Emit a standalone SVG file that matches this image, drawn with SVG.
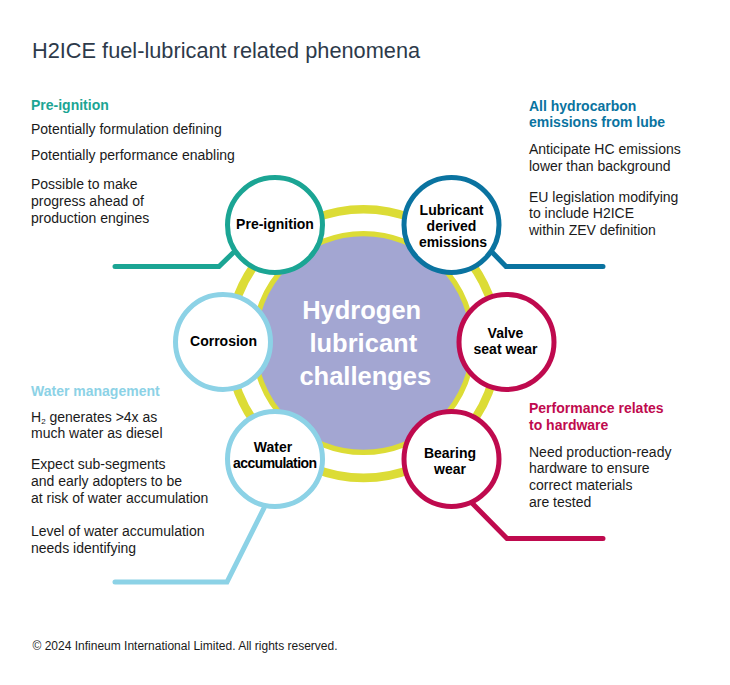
<svg xmlns="http://www.w3.org/2000/svg" width="730" height="685" viewBox="0 0 730 685">
<style>
text{font-family:"Liberation Sans",Arial,sans-serif;font-size:14px;fill:#1a1a1a}
.h{font-weight:bold}
.n{font-weight:bold;text-anchor:middle;fill:#000}
.c{font-size:25.500px;font-weight:bold;fill:#fff;text-anchor:middle}
.node{fill:#fff;stroke-width:5}
.l{fill:none;stroke-width:5;stroke-linecap:round;stroke-linejoin:miter}
</style>
<rect width="730" height="685" fill="#fff"/>
<text x="32" y="58" style="font-size:21.750px;fill:#2d3a4a">H2ICE fuel-lubricant related phenomena</text>
<g id="hub">
<circle cx="363.500" cy="343.600" r="134.300" fill="none" stroke="#dcdc36" stroke-width="8.600"/>
<circle cx="363.500" cy="343" r="109.400" fill="#a3a6d2" stroke="#dcdc36" stroke-width="5.300"/>
<text class="c" x="361.700" y="318.500">Hydrogen</text>
<text class="c" x="363.300" y="351.500">lubricant</text>
<text class="c" x="365.300" y="384.500">challenges</text>
</g>
<g id="connectors">
<path class="l" stroke="#1ba594" d="M115 266.500H219L236 250"/>
<path class="l" stroke="#0a73a0" d="M603 266.500H506L490 250"/>
<path class="l" stroke="#8cd2e6" d="M115 582H227L265 506"/>
<path class="l" stroke="#bf0a4e" d="M603 538.500H507L472 503"/>
</g>
<g id="pre-ignition"><circle class="node" cx="275" cy="225" r="47.500" stroke="#1ba594"/><text class="n" x="275" y="228.500">Pre-ignition</text></g>
<g id="lubricant"><circle class="node" cx="451.500" cy="225" r="47.500" stroke="#0a73a0"/><text class="n" x="451.500" y="214.500">Lubricant</text><text class="n" x="451.500" y="230.500">derived</text><text class="n" x="453" y="246.500" textLength="68">emissions</text></g>
<g id="corrosion"><circle class="node" cx="223" cy="342" r="47.500" stroke="#8cd2e6"/><text class="n" x="223.500" y="346">Corrosion</text></g>
<g id="valve"><circle class="node" cx="506.500" cy="342" r="47.500" stroke="#bf0a4e"/><text class="n" x="505.500" y="338">Valve</text><text class="n" x="505.500" y="354" textLength="64">seat wear</text></g>
<g id="water"><circle class="node" cx="275" cy="459" r="47.500" stroke="#8cd2e6"/><text class="n" x="273" y="452">Water</text><text class="n" x="275" y="468" textLength="84">accumulation</text></g>
<g id="bearing"><circle class="node" cx="451.500" cy="459" r="47.500" stroke="#bf0a4e"/><text class="n" x="450" y="458">Bearing</text><text class="n" x="450" y="474">wear</text></g>
<g id="text-pre-ignition">
<text class="h" x="31" y="110" style="fill:#1ba594">Pre-ignition</text>
<text x="31" y="134">Potentially formulation defining</text>
<text x="31" y="160">Potentially performance enabling</text>
<text x="31" y="189">Possible to make</text>
<text x="31" y="206">progress ahead of</text>
<text x="31" y="223">production engines</text>
</g>
<g id="text-emissions">
<text class="h" x="529" y="111" style="fill:#0a73a0">All hydrocarbon</text>
<text class="h" x="529" y="127" style="fill:#0a73a0">emissions from lube</text>
<text x="529" y="154">Anticipate HC emissions</text>
<text x="529" y="171">lower than background</text>
<text x="529" y="202">EU legislation modifying</text>
<text x="529" y="218">to include H2ICE</text>
<text x="529" y="235">within ZEV definition</text>
</g>
<g id="text-water">
<text class="h" x="31" y="396" style="fill:#8cd2e6">Water management</text>
<text x="31" y="422">H<tspan font-size="8" dy="2">2</tspan><tspan dy="-2"> generates &gt;4x as</tspan></text>
<text x="31" y="438">much water as diesel</text>
<text x="31" y="469">Expect sub-segments</text>
<text x="31" y="486">and early adopters to be</text>
<text x="31" y="503">at risk of water accumulation</text>
<text x="31" y="536">Level of water accumulation</text>
<text x="31" y="553">needs identifying</text>
</g>
<g id="text-hardware">
<text class="h" x="529" y="413" style="fill:#bf0a4e">Performance relates</text>
<text class="h" x="529" y="430" style="fill:#bf0a4e">to hardware</text>
<text x="529" y="457">Need production-ready</text>
<text x="529" y="473">hardware to ensure</text>
<text x="529" y="490">correct materials</text>
<text x="529" y="507">are tested</text>
</g>
<text x="32.500" y="650" style="font-size:12px">© 2024 Infineum International Limited. All rights reserved.</text>
</svg>
